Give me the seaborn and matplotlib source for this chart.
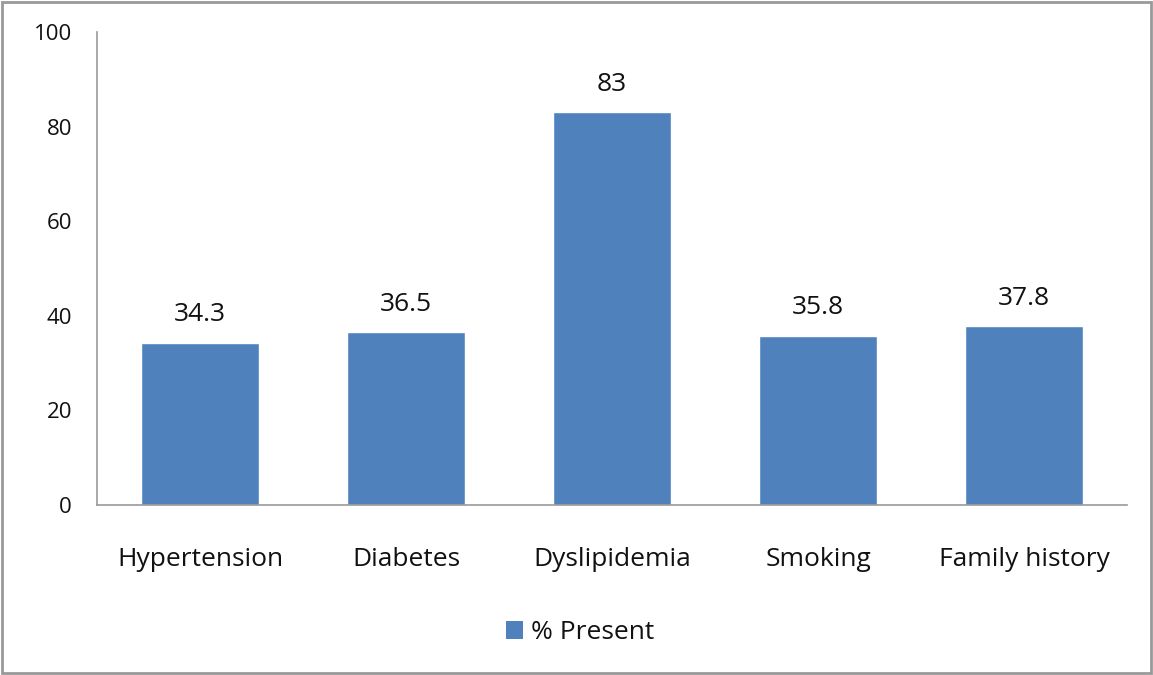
import matplotlib
matplotlib.use("Agg")
import matplotlib.pyplot as plt
import seaborn as sns
import pandas as pd
from matplotlib.patches import Rectangle, Patch

categories = ["Hypertension", "Diabetes", "Dyslipidemia", "Smoking", "Family history"]
percent_present = [34.3, 36.5, 83, 35.8, 37.8]
value_labels = ["34.3", "36.5", "83", "35.8", "37.8"]
y_ticks = [0, 20, 40, 60, 80, 100]
series_name = "% Present"

sns.set_theme(style="white")
plt.rcParams["font.family"] = ["Open Sans", "DejaVu Sans"]

bar_color = "#4F81BD"
text_color = "#111111"
df = pd.DataFrame({"category": categories, "value": percent_present})

fig = plt.figure(figsize=(11.53, 6.75), dpi=100)
ax = fig.add_axes([0.0841, 0.2519, 0.8934, 0.7007])

sns.barplot(data=df, x="category", y="value", color=bar_color, width=0.57,
            saturation=1, ax=ax)

ax.set_ylim(0, 100)
ax.set_yticks(y_ticks)
ax.set_yticklabels([str(t) for t in y_ticks], fontsize=16, color=text_color)
ax.set_xlim(-0.5, len(categories) - 0.5)
ax.set_xlabel("")
ax.set_ylabel("")
ax.tick_params(axis="x", labelsize=19, pad=30, length=0, labelcolor=text_color)
ax.tick_params(axis="y", pad=18, length=0)

for side in ["top", "right"]:
    ax.spines[side].set_visible(False)
for side in ["left", "bottom"]:
    ax.spines[side].set_color("#999999")
    ax.spines[side].set_linewidth(1.2)

for patch, label in zip(ax.patches, value_labels):
    ax.annotate(label, (patch.get_x() + patch.get_width() / 2, patch.get_height()),
                xytext=(0, 11), textcoords="offset points",
                ha="center", va="bottom", fontsize=19, color=text_color)

handle = Patch(facecolor=bar_color, edgecolor="none")
fig.legend([handle], [series_name], loc="center", bbox_to_anchor=(0.503, 0.063),
           frameon=False, fontsize=19, handlelength=0.65, handleheight=0.65,
           handletextpad=0.3, labelcolor=text_color)

fig.patches.append(Rectangle((0.002, 0.003), 0.996, 0.994, transform=fig.transFigure,
                             fill=False, edgecolor="#999999", linewidth=2))

fig.savefig("out.png", dpi=100)
